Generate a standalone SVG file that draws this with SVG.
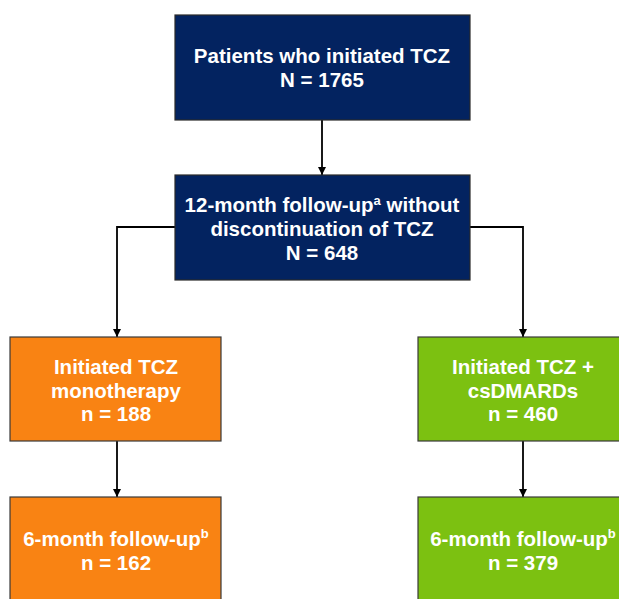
<svg xmlns="http://www.w3.org/2000/svg" width="619" height="599" viewBox="0 0 619 599">
<defs>
<style>
.navy{fill:#032360;stroke:#2a2a2a;stroke-width:1.2}
.orange{fill:#f98313;stroke:#3a3a3a;stroke-width:1.2}
.green{fill:#7cc111;stroke:#3a3a3a;stroke-width:1.2}
.t{font-family:"Liberation Sans",Arial,sans-serif;font-weight:bold;font-size:20.5px;fill:#ffffff;text-anchor:middle}
.sup{font-size:13px}
.c{fill:none;stroke:#000;stroke-width:1.8}
</style>
<marker id="ah" viewBox="0 0 10 10" refX="10" refY="5" markerWidth="9" markerHeight="8" markerUnits="userSpaceOnUse" orient="auto">
<path d="M0,0 L10,5 L0,10 z" fill="#000"/>
</marker>
</defs>
<rect width="619" height="599" fill="#fff"/>
<g id="connectors">
<line class="c" x1="322" y1="120" x2="322" y2="175" marker-end="url(#ah)"/>
<polyline class="c" points="175,227 117,227 117,337" marker-end="url(#ah)"/>
<polyline class="c" points="470,227 523,227 523,337" marker-end="url(#ah)"/>
<line class="c" x1="117" y1="441" x2="117" y2="497" marker-end="url(#ah)"/>
<line class="c" x1="523" y1="441" x2="523" y2="497" marker-end="url(#ah)"/>
</g>
<g id="n1">
<rect class="navy" x="175" y="15" width="295" height="105"/>
<text class="t" x="322" y="63">Patients who initiated TCZ</text>
<text class="t" x="322" y="87">N = 1765</text>
</g>
<g id="n2">
<rect class="navy" x="175" y="175" width="295" height="105"/>
<text class="t" x="322" y="212">12-month follow-up<tspan class="sup" dy="-7">a</tspan><tspan dy="7"> without</tspan></text>
<text class="t" x="322" y="236">discontinuation of TCZ</text>
<text class="t" x="322" y="260">N = 648</text>
</g>
<g id="n3">
<rect class="orange" x="10" y="337" width="211" height="104"/>
<text class="t" x="116" y="374">Initiated TCZ</text>
<text class="t" x="116" y="398">monotherapy</text>
<text class="t" x="116" y="421">n = 188</text>
</g>
<g id="n4">
<rect class="green" x="418" y="337" width="211" height="104"/>
<text class="t" x="523" y="374">Initiated TCZ +</text>
<text class="t" x="523" y="398">csDMARDs</text>
<text class="t" x="523" y="421">n = 460</text>
</g>
<g id="n5">
<rect class="orange" x="10" y="497" width="211" height="110"/>
<text class="t" x="116" y="546">6-month follow-up<tspan class="sup" dy="-8">b</tspan></text>
<text class="t" x="116" y="570">n = 162</text>
</g>
<g id="n6">
<rect class="green" x="418" y="497" width="211" height="110"/>
<text class="t" x="523" y="546">6-month follow-up<tspan class="sup" dy="-8">b</tspan></text>
<text class="t" x="523" y="570">n = 379</text>
</g>
</svg>
